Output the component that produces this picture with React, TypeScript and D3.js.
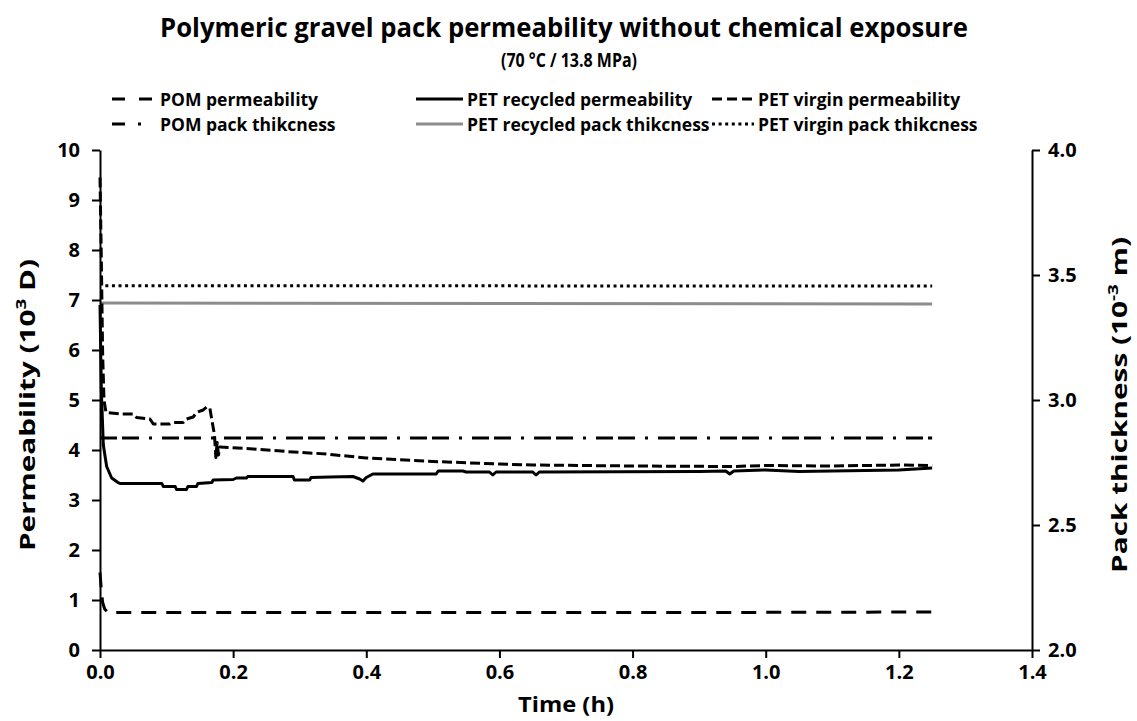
import React, { useEffect, useRef } from "react";
import * as d3 from "d3";

// time (h) / permeability (10^3 D)
const petVirginT = [0, 0.002, 0.004, 0.006, 0.009, 0.03, 0.05, 0.055, 0.075, 0.08, 0.105, 0.11, 0.125, 0.13, 0.14, 0.145, 0.155, 0.16, 0.165, 0.168, 0.172, 0.174, 0.176, 0.178, 0.18, 0.23, 0.28, 0.34, 0.4, 0.5, 0.6, 0.65, 0.8, 0.95, 1.0, 1.1, 1.2, 1.25];
const petVirginK = [9.45, 7.8, 5.9, 5.0, 4.75, 4.72, 4.72, 4.65, 4.62, 4.52, 4.52, 4.55, 4.55, 4.62, 4.66, 4.75, 4.8, 4.86, 4.84, 4.6, 4.3, 3.85, 4.15, 3.9, 4.06, 4.02, 3.97, 3.92, 3.84, 3.77, 3.72, 3.7, 3.68, 3.67, 3.69, 3.68, 3.7, 3.69];

const petRecT = [0, 0.002, 0.005, 0.01, 0.0175, 0.027, 0.03, 0.093, 0.095, 0.113, 0.115, 0.13, 0.132, 0.145, 0.147, 0.168, 0.17, 0.2, 0.205, 0.22, 0.222, 0.29, 0.292, 0.315, 0.317, 0.345, 0.38, 0.39, 0.395, 0.4, 0.41, 0.505, 0.508, 0.545, 0.55, 0.585, 0.59, 0.595, 0.65, 0.655, 0.66, 0.9, 0.94, 0.946, 0.952, 1.0, 1.05, 1.2, 1.25];
const petRecK = [6.9, 5.2, 4.1, 3.67, 3.44, 3.35, 3.33, 3.33, 3.27, 3.27, 3.21, 3.21, 3.27, 3.27, 3.33, 3.35, 3.4, 3.41, 3.44, 3.44, 3.47, 3.47, 3.4, 3.4, 3.45, 3.46, 3.47, 3.42, 3.38, 3.45, 3.52, 3.52, 3.58, 3.58, 3.56, 3.56, 3.5, 3.56, 3.56, 3.5, 3.56, 3.57, 3.58, 3.52, 3.58, 3.6, 3.57, 3.6, 3.64];

const pomT = [0, 0.002, 0.004, 0.007, 0.012, 0.3, 0.6, 0.9, 1.25];
const pomK = [1.55, 1.2, 0.95, 0.82, 0.75, 0.75, 0.75, 0.75, 0.76];

// time (h) / pack thickness (10^-3 m)
const thickT = [0, 1.25];
const pomThick = [2.848, 2.848];
const petRecThick = [3.388, 3.384];
const petVirginThickT = [0.008, 1.25];
const petVirginThick = [3.457, 3.456];

const xTicks = [0, 0.2, 0.4, 0.6, 0.8, 1.0, 1.2, 1.4];
const yLeftTicks = [0, 1, 2, 3, 4, 5, 6, 7, 8, 9, 10];
const yRightTicks = [2.0, 2.5, 3.0, 3.5, 4.0];

const legendNames = [
  "POM permeability",
  "PET recycled permeability",
  "PET virgin permeability",
  "POM pack thikcness",
  "PET recycled pack thikcness",
  "PET virgin pack thikcness",
];

const FONT = "'Open Sans', sans-serif";

export default function App() {
  const svgRef = useRef<SVGSVGElement>(null);

  useEffect(() => {
    if (!svgRef.current) return;
    const svg = d3.select(svgRef.current);
    svg.selectAll("*").remove();

    const width = 1137;
    const height = 721;
    const margin = { top: 150, right: 105, bottom: 71, left: 100 };
    const innerW = width - margin.left - margin.right;
    const innerH = height - margin.top - margin.bottom;

    svg.append("rect").attr("width", width).attr("height", height).attr("fill", "#fff");

    const x = d3.scaleLinear().domain([0, 1.4]).range([margin.left, margin.left + innerW]);
    const yL = d3.scaleLinear().domain([0, 10]).range([margin.top + innerH, margin.top]);
    const yR = d3.scaleLinear().domain([2, 4]).range([margin.top + innerH, margin.top]);

    // series styles (legend uses a shortened pattern so it reads like the original key)
    const styles = [
      { dash: "15,10", legendDash: "13,14", color: "#000", width: 3 },
      { dash: null, legendDash: null, color: "#000", width: 3 },
      { dash: "10,4", legendDash: "10,5", color: "#000", width: 3 },
      { dash: "17,5,17,10,3,10", legendDash: "13,13,3,30", color: "#000", width: 3 },
      { dash: null, legendDash: null, color: "#8c8c8c", width: 3 },
      { dash: "3,3.6", legendDash: "3,3.6", color: "#000", width: 3 },
    ];

    const series = [
      { t: pomT, v: pomK, y: yL, s: styles[0] },
      { t: petRecT, v: petRecK, y: yL, s: styles[1] },
      { t: petVirginT, v: petVirginK, y: yL, s: styles[2] },
      { t: thickT, v: pomThick, y: yR, s: styles[3] },
      { t: thickT, v: petRecThick, y: yR, s: styles[4] },
      { t: petVirginThickT, v: petVirginThick, y: yR, s: styles[5] },
    ];

    const lineG = svg.append("g");
    // thickness lines underneath, permeabilities on top
    [4, 5, 3, 0, 2, 1].forEach((i) => {
      const sr = series[i];
      const pts = sr.t.map((t, j) => [t, sr.v[j]] as [number, number]);
      const line = d3
        .line<[number, number]>()
        .x((d) => x(d[0]))
        .y((d) => sr.y(d[1]));
      lineG
        .append("path")
        .attr("d", line(pts))
        .attr("fill", "none")
        .attr("stroke", sr.s.color)
        .attr("stroke-width", sr.s.width)
        .attr("stroke-dasharray", sr.s.dash)
        .attr("stroke-linejoin", "round");
    });

    // axes
    const styleAxis = (g: d3.Selection<SVGGElement, unknown, null, undefined>) => {
      g.attr("font-size", null).attr("font-family", null);
      g.select(".domain").attr("stroke", "#000").attr("stroke-width", 2);
      g.selectAll(".tick line").attr("stroke", "#000").attr("stroke-width", 2);
      g.selectAll(".tick text")
        .attr("fill", "#000")
        .attr("font-family", FONT)
        .attr("font-weight", "bold")
        .attr("font-size", 20);
    };

    svg
      .append("g")
      .attr("transform", `translate(0,${margin.top + innerH})`)
      .call(d3.axisBottom(x).tickValues(xTicks).tickSize(8).tickSizeOuter(0).tickPadding(7).tickFormat(d3.format(".1f")))
      .call(styleAxis);

    svg
      .append("g")
      .attr("transform", `translate(${margin.left},0)`)
      .call(d3.axisLeft(yL).tickValues(yLeftTicks).tickSize(8).tickSizeOuter(0).tickPadding(12).tickFormat(d3.format("d")))
      .call(styleAxis);

    svg
      .append("g")
      .attr("transform", `translate(${margin.left + innerW},0)`)
      .call(d3.axisRight(yR).tickValues(yRightTicks).tickSize(8).tickSizeOuter(0).tickPadding(8).tickFormat(d3.format(".1f")))
      .call(styleAxis);

    // titles
    svg
      .append("text")
      .attr("x", 564)
      .attr("y", 37)
      .attr("text-anchor", "middle")
      .attr("font-family", FONT)
      .attr("font-weight", "bold")
      .attr("font-size", 27)
      .attr("textLength", 808)
      .attr("lengthAdjust", "spacingAndGlyphs")
      .text("Polymeric gravel pack permeability without chemical exposure");

    svg
      .append("text")
      .attr("x", 569)
      .attr("y", 67)
      .attr("text-anchor", "middle")
      .attr("font-family", FONT)
      .attr("font-weight", "bold")
      .attr("font-size", 19)
      .attr("textLength", 136)
      .attr("lengthAdjust", "spacingAndGlyphs")
      .text("(70 °C / 13.8 MPa)");

    svg
      .append("text")
      .attr("x", 566)
      .attr("y", 712)
      .attr("text-anchor", "middle")
      .attr("font-family", FONT)
      .attr("font-weight", "bold")
      .attr("font-size", 21)
      .attr("textLength", 96)
      .attr("lengthAdjust", "spacingAndGlyphs")
      .text("Time (h)");

    const yLab = svg
      .append("text")
      .attr("transform", `translate(35,${margin.top + 255}) rotate(-90)`)
      .attr("text-anchor", "middle")
      .attr("font-family", FONT)
      .attr("font-weight", "bold")
      .attr("font-size", 22)
      .attr("textLength", 292)
      .attr("lengthAdjust", "spacingAndGlyphs");
    yLab.append("tspan").text("Permeability (10");
    yLab.append("tspan").attr("font-size", 14).attr("dy", -9).text("3");
    yLab.append("tspan").attr("dy", 9).text(" D)");

    const yRLab = svg
      .append("text")
      .attr("transform", `translate(1127,${margin.top + 255}) rotate(-90)`)
      .attr("text-anchor", "middle")
      .attr("font-family", FONT)
      .attr("font-weight", "bold")
      .attr("font-size", 22)
      .attr("textLength", 336)
      .attr("lengthAdjust", "spacingAndGlyphs");
    yRLab.append("tspan").text("Pack thickness (10");
    yRLab.append("tspan").attr("font-size", 14).attr("dy", -9).text("-3");
    yRLab.append("tspan").attr("dy", 9).text(" m)");

    // legend: 2 rows x 3 columns
    const colX = [112, 416, 712];
    const rowY = [99, 124];
    const symW = [40, 47, 42];
    legendNames.forEach((name, i) => {
      const col = i % 3;
      const row = Math.floor(i / 3);
      const s = styles[i];
      const g = svg.append("g").attr("transform", `translate(${colX[col]},${rowY[row]})`);
      g.append("line")
        .attr("x1", 0)
        .attr("x2", symW[col])
        .attr("y1", 0)
        .attr("y2", 0)
        .attr("stroke", s.color)
        .attr("stroke-width", s.width)
        .attr("stroke-dasharray", s.legendDash);
      g.append("text")
        .attr("x", symW[col] + (col === 0 ? 8 : 4))
        .attr("y", 6.5)
        .attr("font-family", FONT)
        .attr("font-weight", "bold")
        .attr("font-size", 17.5)
        .text(name);
    });
  }, []);

  return (
    <svg
      ref={svgRef}
      width={1137}
      height={721}
      viewBox="0 0 1137 721"
      style={{ position: "absolute", left: 0, top: 0, display: "block" }}
    />
  );
}
